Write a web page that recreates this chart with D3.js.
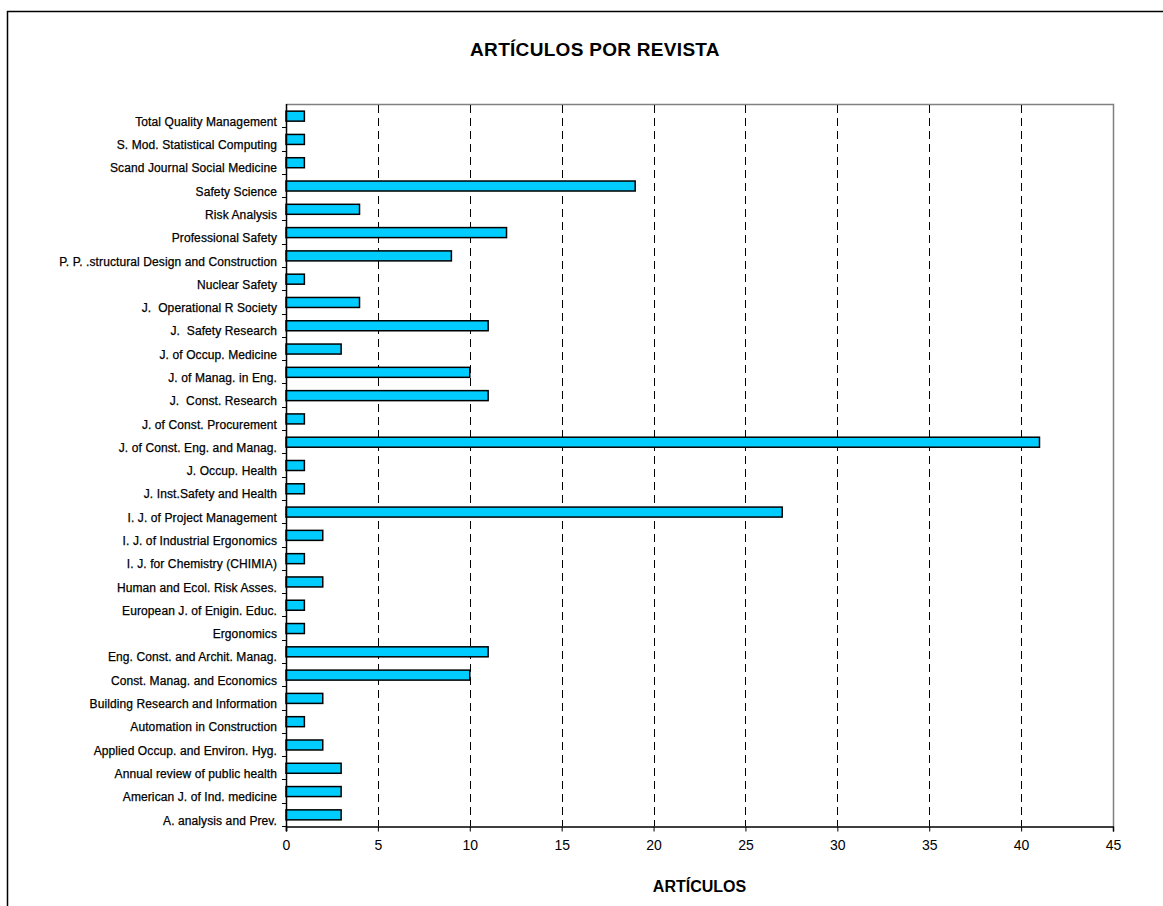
<!DOCTYPE html>
<html>
<head>
<meta charset="utf-8">
<script src="https://cdn.jsdelivr.net/npm/d3@7"></script>
<style>
  body { margin: 0; background: #fff; }
  svg { display: block; }
</style>
</head>
<body>
<div id="chart"></div>
<script>
// Chart data (top to bottom, as in the picture)
var journals = [
  "Total Quality Management",
  "S. Mod. Statistical Computing",
  "Scand Journal Social Medicine",
  "Safety Science",
  "Risk Analysis",
  "Professional Safety",
  "P. P. .structural Design and Construction",
  "Nuclear Safety",
  "J.  Operational R Society",
  "J.  Safety Research",
  "J. of Occup. Medicine",
  "J. of Manag. in Eng.",
  "J.  Const. Research",
  "J. of Const. Procurement",
  "J. of Const. Eng. and Manag.",
  "J. Occup. Health",
  "J. Inst.Safety and Health",
  "I. J. of Project Management",
  "I. J. of Industrial Ergonomics",
  "I. J. for Chemistry (CHIMIA)",
  "Human and Ecol. Risk Asses.",
  "European J. of Enigin. Educ.",
  "Ergonomics",
  "Eng. Const. and Archit. Manag.",
  "Const. Manag. and Economics",
  "Building Research and Information",
  "Automation in Construction",
  "Applied Occup. and Environ. Hyg.",
  "Annual review of public health",
  "American J. of Ind. medicine",
  "A. analysis and Prev."
];
var articles = [1, 1, 1, 19, 4, 12, 9, 1, 4, 11, 3, 10, 11, 1, 41, 1, 1, 27, 2, 1, 2, 1, 1, 11, 10, 2, 1, 2, 3, 3, 3];
var xTicks = [0, 5, 10, 15, 20, 25, 30, 35, 40, 45];
var chartTitle = "ARTÍCULOS POR REVISTA";
var xTitle = "ARTÍCULOS";

var width = 1163, height = 906;
var plot = { left: 286, top: 104, right: 1113, bottom: 826 };
var barColor = "#00ccff";

var svg = d3.select("#chart").append("svg")
  .attr("width", width)
  .attr("height", height)
  .style("font-family", "Arial, 'Liberation Sans', sans-serif");

// outer frame (cut off at right and bottom)
svg.append("rect")
  .attr("x", 7.5).attr("y", 11.5)
  .attr("width", 1200).attr("height", 1000)
  .attr("fill", "#fff")
  .attr("stroke", "#000")
  .attr("stroke-width", 1.5);

var x = d3.scaleLinear().domain([0, 45]).range([plot.left, plot.right]);
var y = d3.scaleBand().domain(journals).range([plot.top, plot.bottom]).paddingInner(0).paddingOuter(0);

var rows = journals.map(function(j, i) { return { name: j, value: articles[i] }; });

// plot frame (grey top/right)
svg.append("path")
  .attr("d", "M" + plot.left + "," + (plot.top + 0.5) + "H" + (plot.right + 0.5) + "V" + plot.bottom)
  .attr("fill", "none")
  .attr("stroke", "#808080")
  .attr("stroke-width", 1.5);

// dashed gridlines
svg.append("g")
  .selectAll("line")
  .data(xTicks.filter(function(t) { return t > 0 && t < 45; }))
  .join("line")
  .attr("x1", function(d) { return Math.round(x(d)) + 0.5; })
  .attr("x2", function(d) { return Math.round(x(d)) + 0.5; })
  .attr("y1", plot.top + 1)
  .attr("y2", plot.bottom)
  .attr("stroke", "#000")
  .attr("stroke-width", 1)
  .attr("stroke-dasharray", "8,5");

// bars
var barH = 10;
svg.append("g")
  .selectAll("rect")
  .data(rows)
  .join("rect")
  .attr("x", x(0))
  .attr("y", function(d) { return y(d.name) + y.bandwidth() / 2 - barH / 2 + 0.5; })
  .attr("width", function(d) { return x(d.value) - x(0); })
  .attr("height", barH)
  .attr("fill", barColor)
  .attr("stroke", "#000")
  .attr("stroke-width", 1.5);

// x axis
var xAxis = d3.axisBottom(x).tickValues(xTicks).tickSize(5).tickPadding(9).tickFormat(d3.format("d"));
var gx = svg.append("g")
  .attr("transform", "translate(0," + (plot.bottom + 0.5) + ")")
  .call(xAxis);
gx.select(".domain").attr("stroke", "#000").attr("stroke-width", 1.5);
gx.selectAll(".tick line").attr("stroke", "#000");
gx.selectAll(".tick text")
  .attr("font-size", 14)
  .attr("font-family", "Arial, 'Liberation Sans', sans-serif")
  .attr("fill", "#000");

// y axis line + ticks at band boundaries
svg.append("line")
  .attr("x1", plot.left + 0.5).attr("x2", plot.left + 0.5)
  .attr("y1", plot.top).attr("y2", plot.bottom + 5)
  .attr("stroke", "#000").attr("stroke-width", 1.5);
svg.append("g")
  .selectAll("line")
  .data(journals)
  .join("line")
  .attr("x1", plot.left - 4).attr("x2", plot.left)
  .attr("y1", function(d) { return Math.round(y(d) + y.bandwidth()) + 0.5; })
  .attr("y2", function(d) { return Math.round(y(d) + y.bandwidth()) + 0.5; })
  .attr("stroke", "#000");

// category labels
svg.append("g")
  .selectAll("text")
  .data(journals)
  .join("text")
  .attr("x", plot.left - 9)
  .attr("y", function(d) { return y(d) + y.bandwidth() - 1.5; })
  .attr("text-anchor", "end")
  .attr("font-size", 12)
  .attr("letter-spacing", 0.1)
  .attr("fill", "#000")
  .attr("stroke", "#000")
  .attr("stroke-width", 0.25)
  .style("white-space", "pre")
  .text(function(d) { return d; });

// titles
svg.append("text")
  .attr("x", 595).attr("y", 56)
  .attr("text-anchor", "middle")
  .attr("font-size", 19)
  .attr("font-weight", "bold")
  .attr("letter-spacing", 0.3)
  .text(chartTitle);

svg.append("text")
  .attr("x", (plot.left + plot.right) / 2).attr("y", 892)
  .attr("text-anchor", "middle")
  .attr("font-size", 16)
  .attr("font-weight", "bold")
  .text(xTitle);
</script>
</body>
</html>
